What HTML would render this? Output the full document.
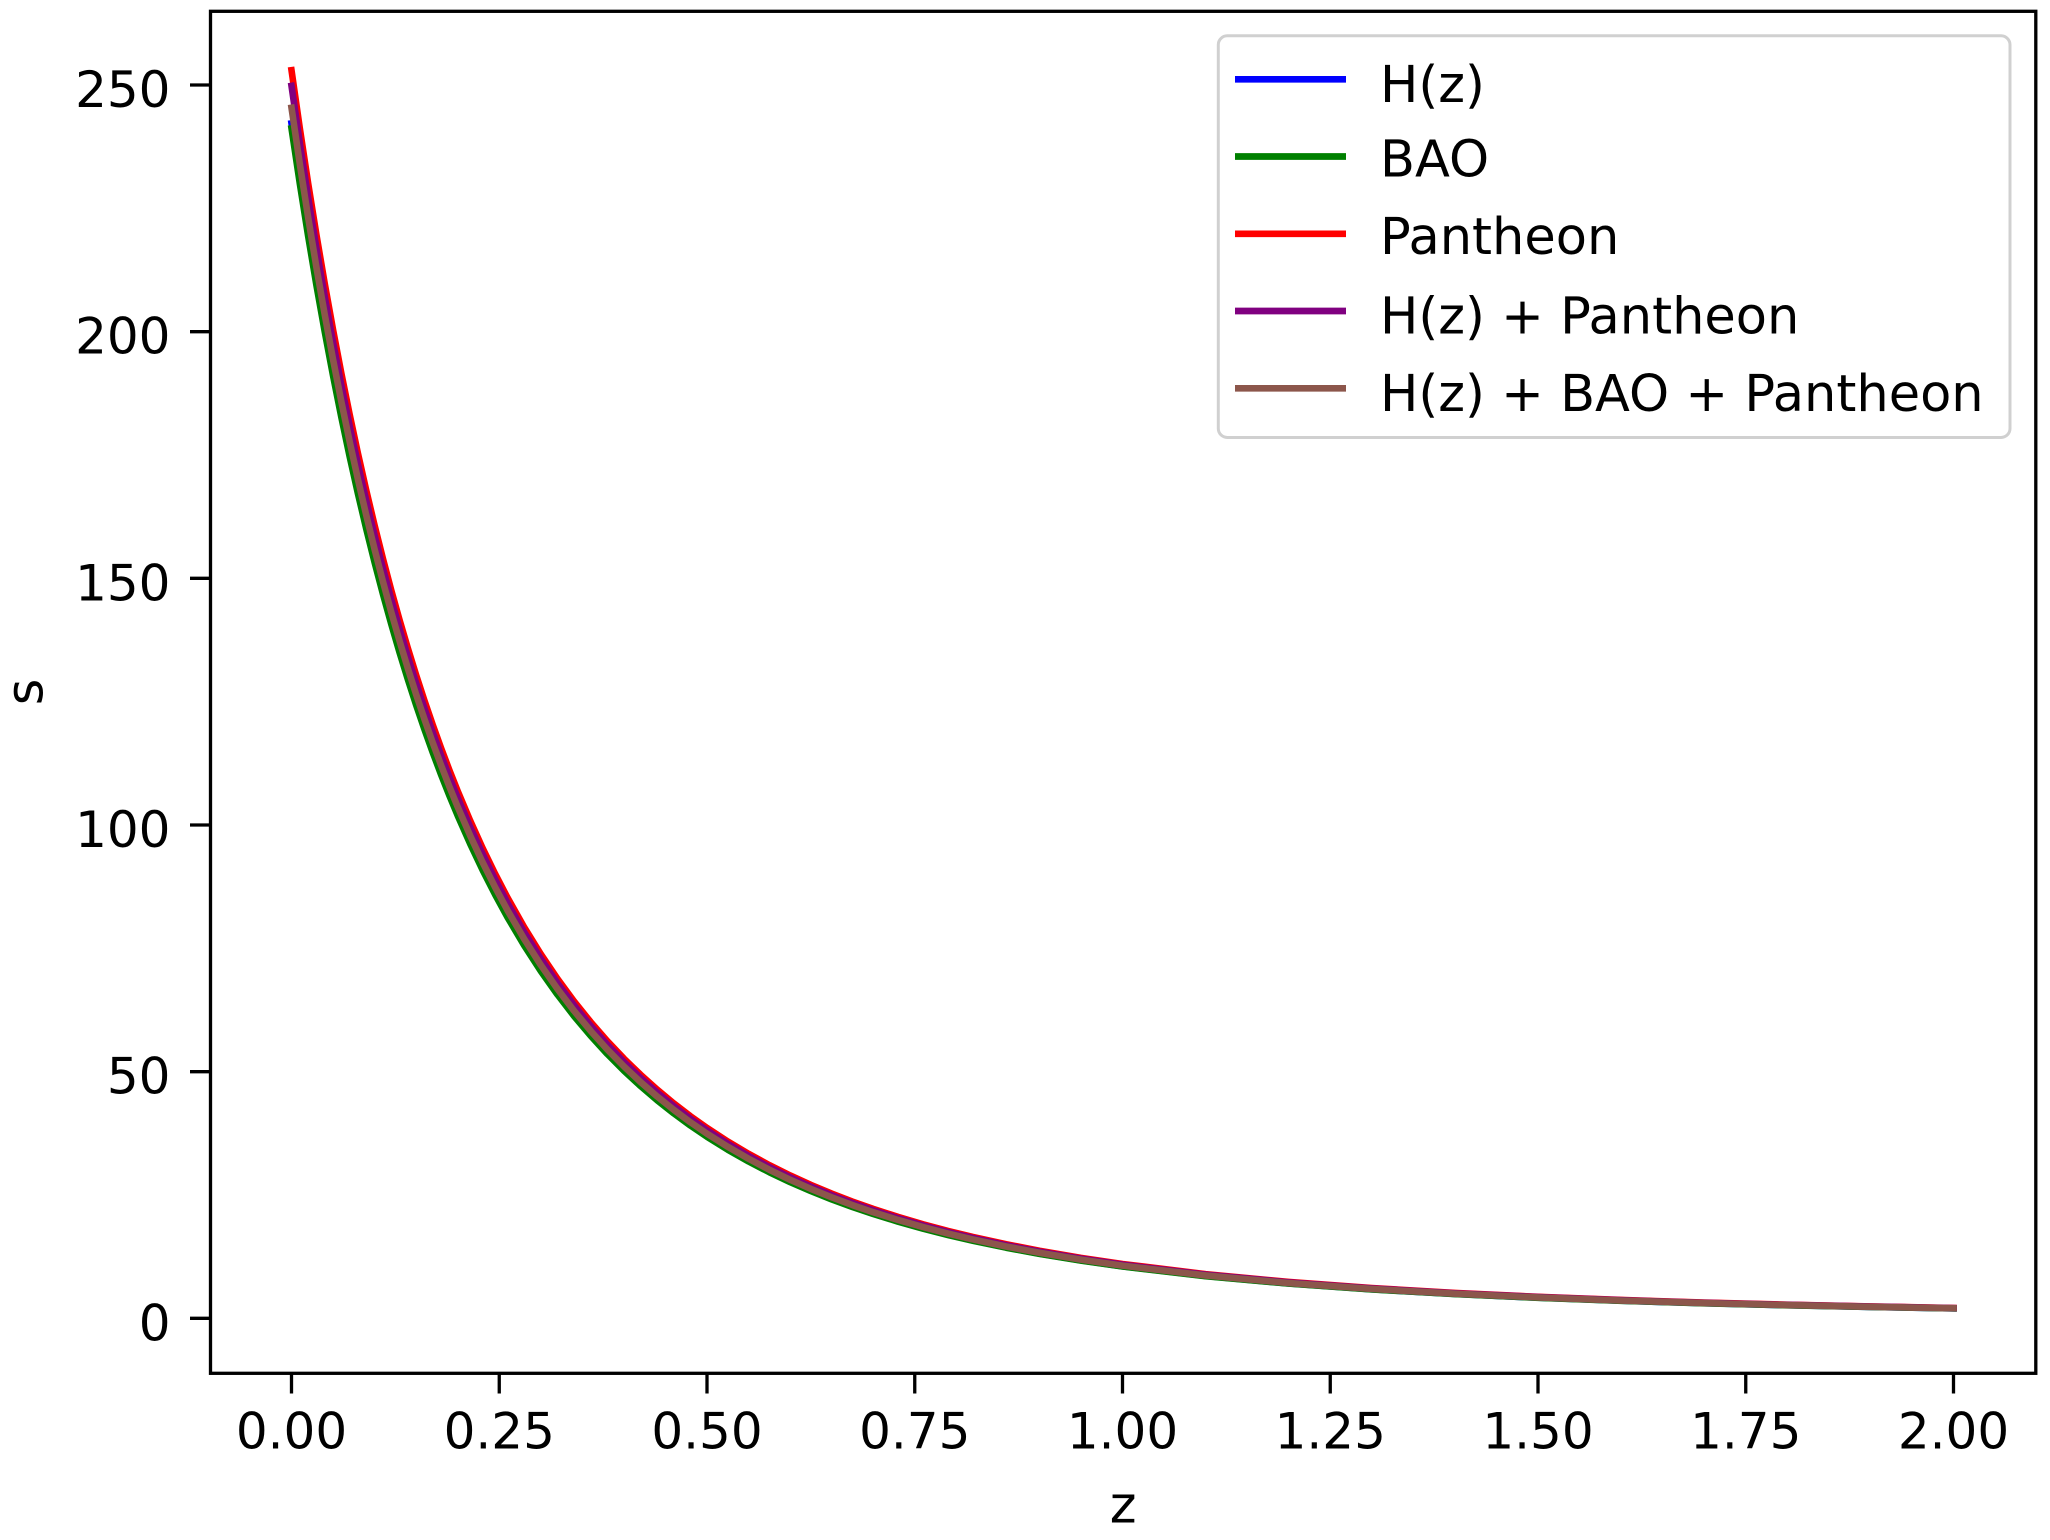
<!DOCTYPE html>
<html>
<head>
<meta charset="utf-8">
<style>
  html, body { margin:0; padding:0; background:#ffffff; }
  body { width:2050px; height:1540px; overflow:hidden; }
  svg { display:block; }
  text { font-family: "DejaVu Sans", "Liberation Sans", sans-serif; fill:#000; }
</style>
</head>
<body>
<svg width="2050" height="1540" viewBox="0 0 2050 1540" xmlns="http://www.w3.org/2000/svg">
  <rect x="0" y="0" width="2050" height="1540" fill="#ffffff"/>

  <!-- Curves (data coords: x=z, y=s) -->
  <g fill="none" stroke-width="6.6" stroke-linejoin="round" stroke-linecap="square">
    <path vector-effect="non-scaling-stroke" stroke="#0000ff" transform="matrix(831,0,0,-4.869,291.5,1318.3)"
      d="M0 245.4 L0.01 233.99 L0.02 223.2 L0.03 213.03 L0.04 203.44 L0.05 194.37 L0.06 185.8 L0.07 177.7 L0.08 170.02 L0.09 162.76 L0.10 155.89 L0.11 149.37 L0.12 143.18 L0.13 137.32 L0.14 131.75 L0.15 126.46 L0.16 121.44 L0.17 116.66 L0.18 112.11 L0.19 107.78 L0.20 103.66 L0.215 97.85 L0.23 92.43 L0.245 87.39 L0.26 82.68 L0.28 76.9 L0.30 71.61 L0.32 66.77 L0.34 62.33 L0.36 58.26 L0.38 54.51 L0.40 51.07 L0.42 47.9 L0.44 44.97 L0.46 42.26 L0.48 39.75 L0.50 37.43 L0.525 34.77 L0.55 32.34 L0.575 30.12 L0.60 28.09 L0.625 26.23 L0.65 24.52 L0.675 22.95 L0.70 21.51 L0.73 19.93 L0.76 18.49 L0.79 17.18 L0.82 15.99 L0.86 14.56 L0.90 13.29 L0.95 11.89 L1.0 10.677 L1.1 8.687 L1.2 7.15 L1.3 5.945 L1.4 4.99 L1.5 4.223 L1.6 3.603 L1.7 3.096 L1.8 2.678 L1.9 2.33 L2.0 2.039"/>
    <path vector-effect="non-scaling-stroke" stroke="#008000" transform="matrix(831,0,0,-4.849,291.5,1318.3)"
      d="M0 245.4 L0.01 233.99 L0.02 223.2 L0.03 213.03 L0.04 203.44 L0.05 194.37 L0.06 185.8 L0.07 177.7 L0.08 170.02 L0.09 162.76 L0.10 155.89 L0.11 149.37 L0.12 143.18 L0.13 137.32 L0.14 131.75 L0.15 126.46 L0.16 121.44 L0.17 116.66 L0.18 112.11 L0.19 107.78 L0.20 103.66 L0.215 97.85 L0.23 92.43 L0.245 87.39 L0.26 82.68 L0.28 76.9 L0.30 71.61 L0.32 66.77 L0.34 62.33 L0.36 58.26 L0.38 54.51 L0.40 51.07 L0.42 47.9 L0.44 44.97 L0.46 42.26 L0.48 39.75 L0.50 37.43 L0.525 34.77 L0.55 32.34 L0.575 30.12 L0.60 28.09 L0.625 26.23 L0.65 24.52 L0.675 22.95 L0.70 21.51 L0.73 19.93 L0.76 18.49 L0.79 17.18 L0.82 15.99 L0.86 14.56 L0.90 13.29 L0.95 11.89 L1.0 10.677 L1.1 8.687 L1.2 7.15 L1.3 5.945 L1.4 4.99 L1.5 4.223 L1.6 3.603 L1.7 3.096 L1.8 2.678 L1.9 2.33 L2.0 2.039"/>
    <path vector-effect="non-scaling-stroke" stroke="#ff0000" transform="matrix(831,0,0,-5.086,291.5,1318.3)"
      d="M0 245.4 L0.01 233.99 L0.02 223.2 L0.03 213.03 L0.04 203.44 L0.05 194.37 L0.06 185.8 L0.07 177.7 L0.08 170.02 L0.09 162.76 L0.10 155.89 L0.11 149.37 L0.12 143.18 L0.13 137.32 L0.14 131.75 L0.15 126.46 L0.16 121.44 L0.17 116.66 L0.18 112.11 L0.19 107.78 L0.20 103.66 L0.215 97.85 L0.23 92.43 L0.245 87.39 L0.26 82.68 L0.28 76.9 L0.30 71.61 L0.32 66.77 L0.34 62.33 L0.36 58.26 L0.38 54.51 L0.40 51.07 L0.42 47.9 L0.44 44.97 L0.46 42.26 L0.48 39.75 L0.50 37.43 L0.525 34.77 L0.55 32.34 L0.575 30.12 L0.60 28.09 L0.625 26.23 L0.65 24.52 L0.675 22.95 L0.70 21.51 L0.73 19.93 L0.76 18.49 L0.79 17.18 L0.82 15.99 L0.86 14.56 L0.90 13.29 L0.95 11.89 L1.0 10.677 L1.1 8.687 L1.2 7.15 L1.3 5.945 L1.4 4.99 L1.5 4.223 L1.6 3.603 L1.7 3.096 L1.8 2.678 L1.9 2.33 L2.0 2.039"/>
    <path vector-effect="non-scaling-stroke" stroke="#800080" transform="matrix(831,0,0,-5.022,291.5,1318.3)"
      d="M0 245.4 L0.01 233.99 L0.02 223.2 L0.03 213.03 L0.04 203.44 L0.05 194.37 L0.06 185.8 L0.07 177.7 L0.08 170.02 L0.09 162.76 L0.10 155.89 L0.11 149.37 L0.12 143.18 L0.13 137.32 L0.14 131.75 L0.15 126.46 L0.16 121.44 L0.17 116.66 L0.18 112.11 L0.19 107.78 L0.20 103.66 L0.215 97.85 L0.23 92.43 L0.245 87.39 L0.26 82.68 L0.28 76.9 L0.30 71.61 L0.32 66.77 L0.34 62.33 L0.36 58.26 L0.38 54.51 L0.40 51.07 L0.42 47.9 L0.44 44.97 L0.46 42.26 L0.48 39.75 L0.50 37.43 L0.525 34.77 L0.55 32.34 L0.575 30.12 L0.60 28.09 L0.625 26.23 L0.65 24.52 L0.675 22.95 L0.70 21.51 L0.73 19.93 L0.76 18.49 L0.79 17.18 L0.82 15.99 L0.86 14.56 L0.90 13.29 L0.95 11.89 L1.0 10.677 L1.1 8.687 L1.2 7.15 L1.3 5.945 L1.4 4.99 L1.5 4.223 L1.6 3.603 L1.7 3.096 L1.8 2.678 L1.9 2.33 L2.0 2.039"/>
    <path vector-effect="non-scaling-stroke" stroke="#8c564b" transform="matrix(831,0,0,-4.933,291.5,1318.3)"
      d="M0 245.4 L0.01 233.99 L0.02 223.2 L0.03 213.03 L0.04 203.44 L0.05 194.37 L0.06 185.8 L0.07 177.7 L0.08 170.02 L0.09 162.76 L0.10 155.89 L0.11 149.37 L0.12 143.18 L0.13 137.32 L0.14 131.75 L0.15 126.46 L0.16 121.44 L0.17 116.66 L0.18 112.11 L0.19 107.78 L0.20 103.66 L0.215 97.85 L0.23 92.43 L0.245 87.39 L0.26 82.68 L0.28 76.9 L0.30 71.61 L0.32 66.77 L0.34 62.33 L0.36 58.26 L0.38 54.51 L0.40 51.07 L0.42 47.9 L0.44 44.97 L0.46 42.26 L0.48 39.75 L0.50 37.43 L0.525 34.77 L0.55 32.34 L0.575 30.12 L0.60 28.09 L0.625 26.23 L0.65 24.52 L0.675 22.95 L0.70 21.51 L0.73 19.93 L0.76 18.49 L0.79 17.18 L0.82 15.99 L0.86 14.56 L0.90 13.29 L0.95 11.89 L1.0 10.677 L1.1 8.687 L1.2 7.15 L1.3 5.945 L1.4 4.99 L1.5 4.223 L1.6 3.603 L1.7 3.096 L1.8 2.678 L1.9 2.33 L2.0 2.039"/>
  </g>

  <!-- Axes spines -->
  <rect x="210.5" y="11.3" width="1825.3" height="1362" fill="none" stroke="#000" stroke-width="3.3" stroke-linejoin="miter"/>

  <!-- Y ticks -->
  <g stroke="#000" stroke-width="3.3">
    <line x1="190" y1="85.0" x2="210.5" y2="85.0"/>
    <line x1="190" y1="331.7" x2="210.5" y2="331.7"/>
    <line x1="190" y1="578.3" x2="210.5" y2="578.3"/>
    <line x1="190" y1="825.0" x2="210.5" y2="825.0"/>
    <line x1="190" y1="1071.7" x2="210.5" y2="1071.7"/>
    <line x1="190" y1="1318.3" x2="210.5" y2="1318.3"/>
  </g>
  <g font-size="50" text-anchor="end">
    <text x="170.5" y="107">250</text>
    <text x="170.5" y="353.7">200</text>
    <text x="170.5" y="600.3">150</text>
    <text x="170.5" y="847">100</text>
    <text x="170.5" y="1093.7">50</text>
    <text x="170.5" y="1340.3">0</text>
  </g>

  <!-- X ticks -->
  <g stroke="#000" stroke-width="3.3">
    <line x1="291.5" y1="1373.3" x2="291.5" y2="1393.5"/>
    <line x1="499.25" y1="1373.3" x2="499.25" y2="1393.5"/>
    <line x1="707" y1="1373.3" x2="707" y2="1393.5"/>
    <line x1="914.75" y1="1373.3" x2="914.75" y2="1393.5"/>
    <line x1="1122.5" y1="1373.3" x2="1122.5" y2="1393.5"/>
    <line x1="1330.25" y1="1373.3" x2="1330.25" y2="1393.5"/>
    <line x1="1538" y1="1373.3" x2="1538" y2="1393.5"/>
    <line x1="1745.75" y1="1373.3" x2="1745.75" y2="1393.5"/>
    <line x1="1953.5" y1="1373.3" x2="1953.5" y2="1393.5"/>
  </g>
  <g font-size="50" text-anchor="middle">
    <text x="291.5" y="1448.3">0.00</text>
    <text x="499.25" y="1448.3">0.25</text>
    <text x="707" y="1448.3">0.50</text>
    <text x="914.75" y="1448.3">0.75</text>
    <text x="1122.5" y="1448.3">1.00</text>
    <text x="1330.25" y="1448.3">1.25</text>
    <text x="1538" y="1448.3">1.50</text>
    <text x="1745.75" y="1448.3">1.75</text>
    <text x="1953.5" y="1448.3">2.00</text>
  </g>

  <!-- Axis labels -->
  <text x="1123.2" y="1522.7" font-size="51" text-anchor="middle">z</text>
  <text transform="translate(42.5,692) rotate(-90)" font-size="51" text-anchor="middle">s</text>

  <!-- Legend -->
  <rect x="1218.3" y="35.8" width="791.7" height="401.7" rx="9" ry="9" fill="#ffffff" fill-opacity="0.8" stroke="#d0d0d0" stroke-width="3"/>
  <g stroke-width="6.7" stroke-linecap="butt">
    <line x1="1235" y1="79.3" x2="1346" y2="79.3" stroke="#0000ff"/>
    <line x1="1235" y1="156.5" x2="1346" y2="156.5" stroke="#008000"/>
    <line x1="1235" y1="233.8" x2="1346" y2="233.8" stroke="#ff0000"/>
    <line x1="1235" y1="311" x2="1346" y2="311" stroke="#800080"/>
    <line x1="1235" y1="388.3" x2="1346" y2="388.3" stroke="#8c564b"/>
  </g>
  <g font-size="51">
    <text x="1380" y="101.8">H(z)</text>
    <text x="1380" y="176.5">BAO</text>
    <text x="1380" y="253.8">Pantheon</text>
    <text x="1380" y="333.5">H(z) + Pantheon</text>
    <text x="1380" y="410.8">H(z) + BAO + Pantheon</text>
  </g>
</svg>
</body>
</html>
